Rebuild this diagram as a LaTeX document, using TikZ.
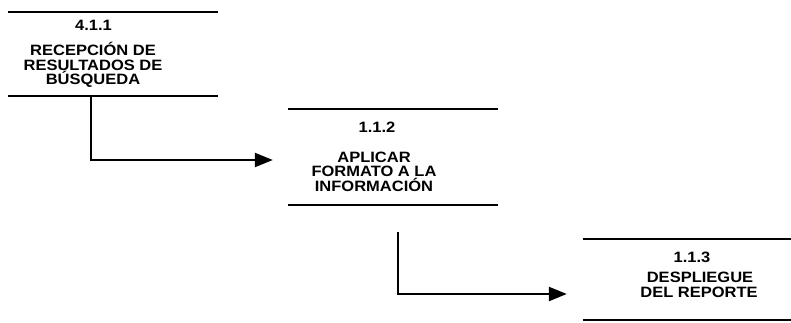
\documentclass[tikz,border=0pt]{standalone}
\usepackage{fontspec}
\setmainfont[FakeStretch=1.1]{Liberation Sans}
\usetikzlibrary{arrows.meta}
\begin{document}
\begin{tikzpicture}[x=1pt,y=-1pt,
  boxarea/.style={draw=none,inner sep=0pt,minimum width=210pt},
  boxline/.style={line width=2pt},
  txt/.style={font=\fontsize{15}{14}\selectfont\bfseries,inner sep=0pt,anchor=base},
  flow/.style={line width=2.4pt,-{Triangle[length=18pt,width=14pt]}}]
\useasboundingbox[fill=white] (0,0) rectangle (791,323);
% boxes
\node[boxarea,minimum height=84pt] (b1) at (113,54) {};
\node[boxarea,minimum height=96pt] (b2) at (393,157) {};
\node[boxarea,minimum width=208pt,minimum height=81pt] (b3) at (687,279.5) {};
\foreach \b in {b1,b2,b3}{
  \draw[boxline] (\b.north west) -- (\b.north east);
  \draw[boxline] (\b.south west) -- (\b.south east);
}
% texts box 1
\node[txt] (n1) at (93.5,31) {4.1.1};
\node[txt] (t1a) at (93,56) {RECEPCIÓN DE};
\node[txt] (t1b) at (93,70.5) {RESULTADOS DE};
\node[txt] (t1c) at (93,85) {BÚSQUEDA};
% texts box 2
\node[txt] (n2) at (377,133) {1.1.2};
\node[txt] (t2a) at (374,162) {APLICAR};
\node[txt] (t2b) at (374,176.5) {FORMATO A LA};
\node[txt] (t2c) at (374,191) {INFORMACIÓN};
% texts box 3
\node[txt] (n3) at (692,262) {1.1.3};
\node[txt] (t3a) at (700,282) {DESPLIEGUE};
\node[txt] (t3b) at (699,297) {DEL REPORTE};
% connectors
\draw[flow] ([xshift=83pt]b1.south west) |- ([xshift=-15pt,yshift=-3pt]b2.west);
\draw[flow] ([xshift=110pt,yshift=-27pt]b2.south west) |- ([xshift=-16pt,yshift=-14.5pt]b3.west);
\end{tikzpicture}
\end{document}
